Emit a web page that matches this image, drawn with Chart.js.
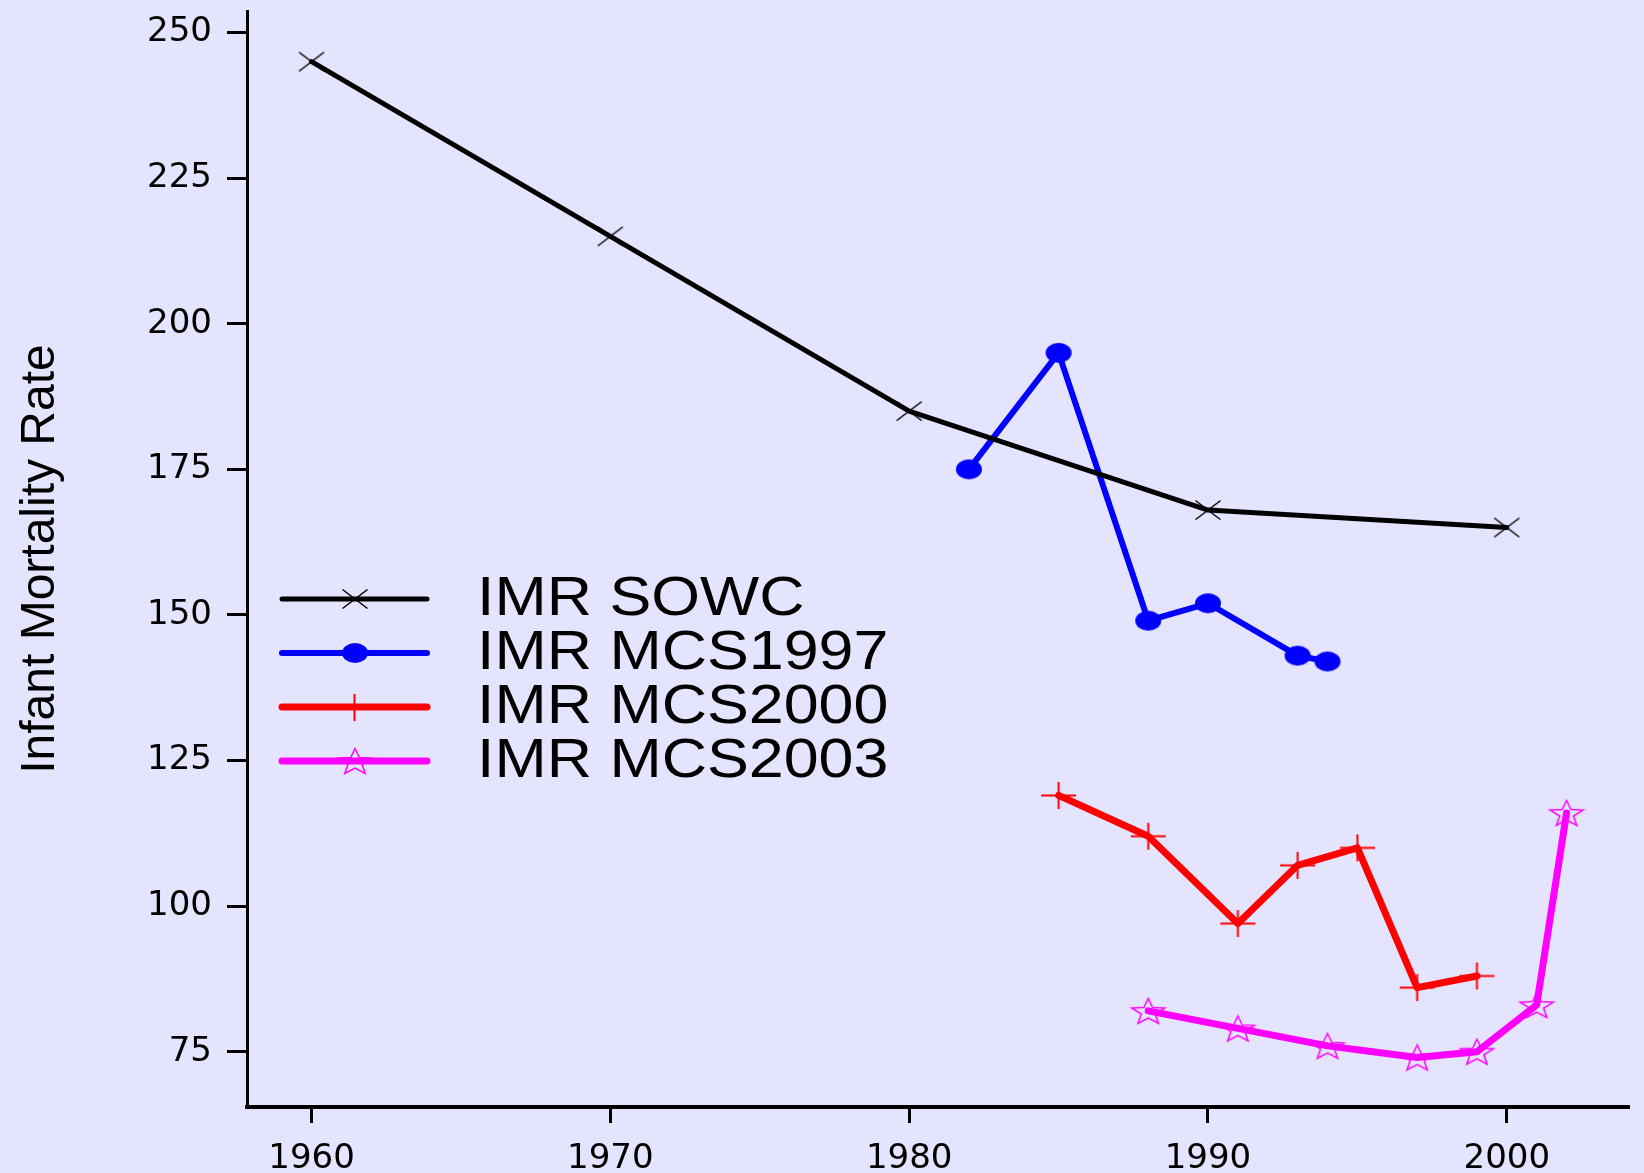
<!DOCTYPE html>
<html><head><meta charset="utf-8">
<script src="https://cdn.jsdelivr.net/npm/chart.js@4/dist/chart.umd.min.js"></script>
<style>html,body{margin:0;padding:0;background:#e4e4fe;} #wrap{width:1644px;height:1173px;position:relative;}</style>
</head><body><div id="wrap"><canvas id="c"></canvas></div>
<script>
const seriesNames = ['IMR SOWC','IMR MCS1997','IMR MCS2000','IMR MCS2003'];
const sowcYears = [1960,1970,1980,1990,2000];
const sowcValues = [245,215,185,168,165];
const mcs1997Years = [1982,1985,1988,1990,1993,1994];
const mcs1997Values = [175,195,149,152,143,142];
const mcs2000Years = [1985,1988,1991,1993,1995,1997,1999];
const mcs2000Values = [119,112,97,107,110,86,88];
const mcs2003Years = [1988,1991,1994,1997,1999,2001,2002];
const mcs2003Values = [82,79,76,74,75,83,116];
const xTickValues = [1960,1970,1980,1990,2000];
const yTickValues = [75,100,125,150,175,200,225,250];
const yAxisTitle = 'Infant Mortality Rate';

const BG = '#e4e4fe';
const TICK_FONT = {family:'"DejaVu Sans", sans-serif', size:34};

function pts(xs, ys){ return xs.map((x,i)=>({x:x, y:ys[i]})); }

function makeMarker(kind, color, w, h, lw){
  const W = Math.ceil(w + 2*lw + 2), H = Math.ceil(h + 2*lw + 2);
  const c = document.createElement('canvas'); c.width = W; c.height = H;
  const g = c.getContext('2d');
  g.strokeStyle = color; g.fillStyle = color; g.lineWidth = lw;
  const cx = W/2, cy = H/2;
  g.beginPath();
  if (kind === 'x') {
    g.moveTo(cx-w/2, cy-h/2); g.lineTo(cx+w/2, cy+h/2);
    g.moveTo(cx+w/2, cy-h/2); g.lineTo(cx-w/2, cy+h/2);
    g.stroke();
  } else if (kind === 'plus') {
    g.moveTo(cx-w/2, cy); g.lineTo(cx+w/2, cy);
    g.moveTo(cx, cy-h/2); g.lineTo(cx, cy+h/2);
    g.stroke();
  } else if (kind === 'ellipse') {
    g.ellipse(cx, cy, w/2, h/2, 0, 0, Math.PI*2);
    g.fill();
  } else if (kind === 'star') {
    const r = h/1.809, sx = w/(1.902*r);
    const oy = cy - h/2 + r;
    for (let i=0;i<10;i++){
      const rr = i%2===0 ? r : r*0.42;
      const a = -Math.PI/2 + i*Math.PI/5;
      const px = cx + rr*Math.cos(a)*sx, py = oy + rr*Math.sin(a);
      if (i) g.lineTo(px,py); else g.moveTo(px,py);
    }
    g.closePath(); g.stroke();
  }
  return c;
}
const markX = makeMarker('x', '#000000', 25, 19, 1.5);
const markDot = makeMarker('ellipse', '#0000ff', 26, 20, 0);
const markPlus = makeMarker('plus', '#ff0000', 35, 27, 2);
const markStar = makeMarker('star', '#ff00ff', 33, 25, 1.5);

const bgPlugin = {
  id:'bg',
  beforeDraw(chart){
    const ctx = chart.ctx; ctx.save(); ctx.fillStyle = BG;
    ctx.fillRect(0,0,chart.width,chart.height); ctx.restore();
  }
};

const legendPlugin = {
  id:'customLegend',
  afterDraw(chart){
    const ctx = chart.ctx;
    const x0 = 282, x1 = 427, tx = 477, y0 = 599, dy = 54;
    chart.data.datasets.forEach((ds,i)=>{
      const y = y0 + i*dy;
      ctx.save();
      ctx.strokeStyle = ds.borderColor; ctx.lineWidth = Math.max(ds.borderWidth, 5); ctx.lineCap = 'round';
      ctx.beginPath(); ctx.moveTo(x0,y); ctx.lineTo(x1,y); ctx.stroke();
      const img = ds.pointStyle;
      ctx.drawImage(img, Math.round((x0+x1)/2 - img.width/2), Math.round(y - img.height/2));
      ctx.fillStyle = '#000';
      ctx.font = '56px "Liberation Sans", Arial, sans-serif';
      ctx.textBaseline = 'middle'; ctx.textAlign = 'left';
      ctx.translate(tx, y + 1);
      ctx.scale(1.12, 1);
      ctx.fillText(ds.label, 0, 0);
      ctx.restore();
    });
  }
};

const datasets = [
  {label: seriesNames[0], data: pts(sowcYears, sowcValues), borderColor:'#000000', backgroundColor:'#000000',
   borderWidth:5, pointStyle: markX, pointRadius:12, pointHoverRadius:12, order:0},
  {label: seriesNames[1], data: pts(mcs1997Years, mcs1997Values), borderColor:'#0000ff', backgroundColor:'#0000ff',
   borderWidth:6, pointStyle: markDot, pointRadius:12, pointHoverRadius:12, order:1},
  {label: seriesNames[2], data: pts(mcs2000Years, mcs2000Values), borderColor:'#ff0000', backgroundColor:'#ff0000',
   borderWidth:7, pointStyle: markPlus, pointRadius:14, pointHoverRadius:14, order:2},
  {label: seriesNames[3], data: pts(mcs2003Years, mcs2003Values), borderColor:'#ff00ff', backgroundColor:'#ff00ff',
   borderWidth:7, pointStyle: markStar, pointRadius:14, pointHoverRadius:14, order:3}
];

new Chart(document.getElementById('c'), {
  type:'line',
  data:{datasets: datasets},
  plugins:[bgPlugin, legendPlugin],
  options:{
    responsive:true, maintainAspectRatio:false, animation:false, devicePixelRatio:1,
    layout:{autoPadding:false, padding:{left:0, top:11, right:15, bottom:0}},
    elements:{line:{tension:0, fill:false, borderJoinStyle:'round', borderCapStyle:'round'}},
    plugins:{legend:{display:false}, tooltip:{enabled:false}},
    scales:{
      x:{
        type:'linear', min:1957.84, max:2004.09,
        afterBuildTicks(axis){ axis.ticks = xTickValues.map(v=>({value:v})); },
        afterFit(scale){ scale.height = 66; scale.paddingLeft = 0; scale.paddingRight = 0; },
        ticks:{font:TICK_FONT, color:'#000', padding:16, maxRotation:0, autoSkip:false, callback:(v)=>String(v)},
        grid:{drawOnChartArea:false, drawTicks:true, tickLength:16, tickWidth:3, tickColor:'#000'},
        border:{display:true, color:'#000', width:4}
      },
      y:{
        type:'linear', min:65.5, max:253.7,
        afterBuildTicks(axis){ axis.ticks = yTickValues.map(v=>({value:v})); },
        afterFit(scale){ scale.width = 247; scale.paddingTop = 0; scale.paddingBottom = 0; },
        ticks:{font:TICK_FONT, color:'#000', padding:15, autoSkip:false, callback:(v)=>String(v)},
        grid:{drawOnChartArea:false, drawTicks:true, tickLength:20, tickWidth:3, tickColor:'#000'},
        border:{display:true, color:'#000', width:3},
        title:{display:true, text:yAxisTitle, color:'#000',
          font:{family:'"Liberation Sans", Arial, sans-serif', size:48}, padding:{top:12, bottom:0}}
      }
    }
  }
});
</script>
</body></html>
